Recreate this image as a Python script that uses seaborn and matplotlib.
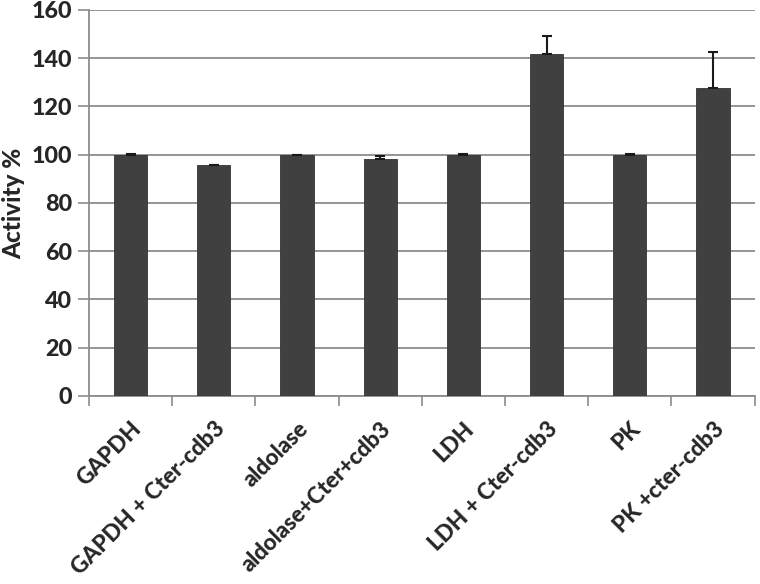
import numpy as np
import pandas as pd
import matplotlib
matplotlib.use("Agg")
import matplotlib.pyplot as plt
import seaborn as sns

categories = ["GAPDH", "GAPDH + Cter-cdb3", "aldolase", "aldolase+Cter+cdb3",
              "LDH", "LDH + Cter-cdb3", "PK", "PK +cter-cdb3"]
activity = [100, 95.6, 100, 98.4, 100, 141.9, 100, 127.8]
errors = [0.3, 0.2, 0.0, 1.2, 0.2, 7.5, 0.2, 14.6]
yticks = [0, 20, 40, 60, 80, 100, 120, 140, 160]

sns.set_theme(style="white")
plt.rcParams['font.family'] = ['Lato', 'DejaVu Sans']

df = pd.DataFrame({"cat": categories, "val": activity})

fig, ax = plt.subplots(figsize=(7.6, 5.84), dpi=100)
fig.subplots_adjust(left=0.117, right=0.993, top=0.983, bottom=0.322)

sns.barplot(data=df, x="cat", y="val", color="#404040", saturation=1,
            width=0.4, edgecolor="#333333", linewidth=0.6, ax=ax, zorder=3)

pos = np.arange(len(categories))
ax.errorbar(pos, activity, yerr=[np.zeros(len(errors)), errors], fmt="none",
            ecolor="#1a1a1a", elinewidth=1.5, capsize=3.3, capthick=1.5, zorder=4)

ax.set_ylim(0, 160)
ax.set_xlim(-0.5, len(categories) - 0.5)
ax.set_yticks(yticks)
ax.set_yticklabels([str(t) for t in yticks], fontsize=16.8, fontweight="black")
ax.yaxis.grid(True, color="#8c8c8c", linewidth=1.3, zorder=0)
ax.set_axisbelow(True)

ax.set_xticks(pos)
ax.set_xticklabels(categories, rotation=45, ha="right", rotation_mode="anchor",
                   fontsize=16.2, fontweight="black")
# boundary ticks between categories
ax.set_xticks(np.arange(-0.5, len(categories), 1.0), minor=True)
ax.tick_params(axis="x", which="major", length=0, pad=16)
ax.tick_params(axis="x", which="minor", length=7, width=1.2, color="#8c8c8c", direction="out", bottom=True)
ax.tick_params(axis="y", length=8, width=1.2, color="#8c8c8c", direction="out", left=True, pad=4)

for s in ["top", "right"]:
    ax.spines[s].set_visible(False)
for s in ["left", "bottom"]:
    ax.spines[s].set_color("#8c8c8c")
    ax.spines[s].set_linewidth(1.3)

ax.set_xlabel("")
ax.set_ylabel("Activity %", fontsize=17.5, fontweight="black", labelpad=5)

fig.savefig("out.png", dpi=100)
